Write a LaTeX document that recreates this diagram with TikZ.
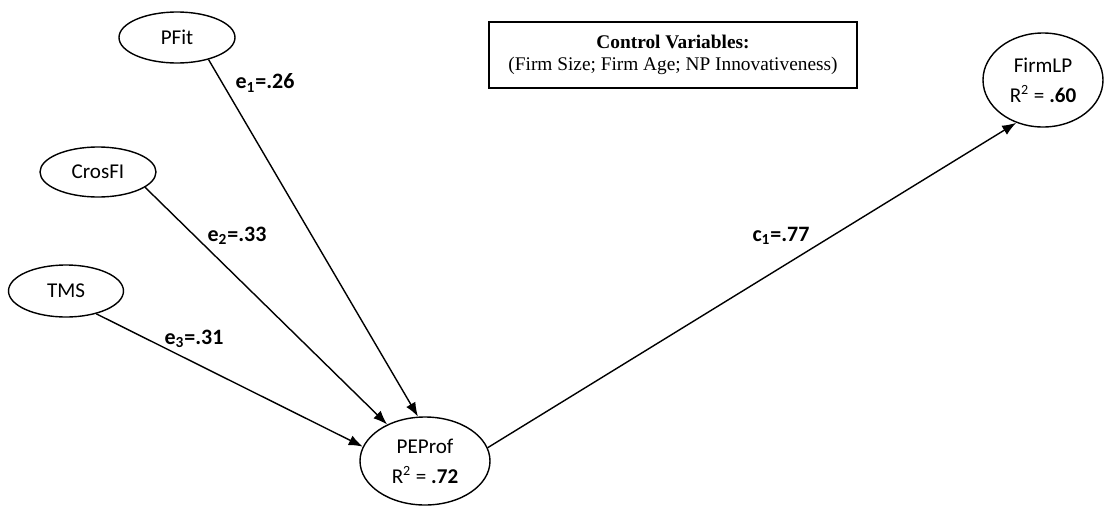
\documentclass[tikz,border=0pt]{standalone}
\usepackage{fontspec}
\setmainfont{Carlito}
\newfontfamily\boxfont{Liberation Serif}
\usepackage{tikz}
\usetikzlibrary{shapes.geometric}
\usetikzlibrary{arrows.meta}
\tikzstyle{every node}=[font=\fontsize{12}{14}\selectfont]
\tikzstyle{latent}=[ellipse, draw, line width=0.8pt, inner sep=0pt, align=center]
\tikzstyle{coef}=[font=\fontsize{12.5}{14}\selectfont\bfseries]
\tikzstyle{path}=[line width=0.8pt, -{Latex[length=8pt,width=6pt]}]

\begin{document}
\begin{tikzpicture}
                \useasboundingbox (0cm, 0cm) rectangle (22.08cm, -10.1cm);
                % predictors
                \node[latent, minimum width=2.32cm, minimum height=1.02cm] (pfit) at (3.54cm, -0.75cm) {PFit};
                \node[latent, minimum width=2.32cm, minimum height=1cm] (crosfi) at (1.96cm, -3.44cm) {CrosFI};
                \node[latent, minimum width=2.3cm, minimum height=1.04cm] (tms) at (1.32cm, -5.82cm) {TMS};
                % mediator and outcome
                \node[latent, minimum width=2.6cm, minimum height=1.76cm] (peprof) at (8.5cm, -9.22cm) {PEProf\\[3pt]R\textsuperscript{2} = \textbf{.72}};
                \node[latent, minimum width=2.4cm, minimum height=1.88cm] (firmlp) at (20.86cm, -1.6cm) {FirmLP\\[3pt]R\textsuperscript{2} = \textbf{.60}};
                \node[draw, line width=0.8pt, minimum width=7.36cm, minimum height=1.32cm, align=center,
                      font=\boxfont\fontsize{11}{12.4}\selectfont] (ctrl) at (13.46cm, -1.1cm)
                      {\textbf{Control Variables:}\\(Firm Size; Firm Age; NP Innovativeness)};
                % paths
                \draw[path] (pfit.-35) -- (peprof.99);
                \draw[path] (crosfi.-18) -- (peprof.136);
                \draw[path] (tms.-37) -- (peprof.167);
                \draw[path] (peprof.12) -- (firmlp.-122);
                \node[coef] (e1) at (5.3cm, -1.66cm) {e\textsubscript{1}=.26};
                \node[coef] (e2) at (4.74cm, -4.72cm) {e\textsubscript{2}=.33};
                \node[coef] (e3) at (3.88cm, -6.78cm) {e\textsubscript{3}=.31};
                \node[coef] (c1) at (15.62cm, -4.72cm) {c\textsubscript{1}=.77};
            \end{tikzpicture}
\end{document}
